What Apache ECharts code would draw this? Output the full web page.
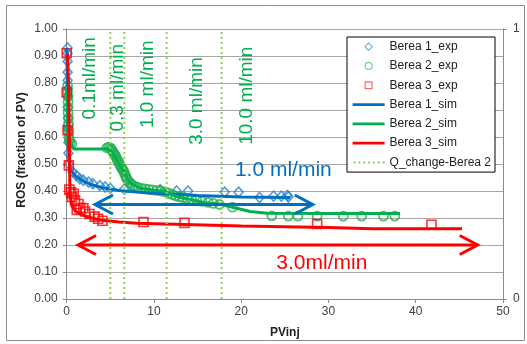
<!DOCTYPE html>
<html><head><meta charset="utf-8">
<script src="https://cdn.jsdelivr.net/npm/echarts@6/dist/echarts.min.js"></script>
<style>html,body{margin:0;padding:0;background:#fff}#c{width:527px;height:344px}</style>
</head><body><div id="c"></div>
<script>
// ---- data ----
const seriesNames = ['Berea 1_exp','Berea 2_exp','Berea 3_exp','Berea 1_sim','Berea 2_sim','Berea 3_sim','Q_change-Berea 2'];
const berea1Exp = [[0.1,0.93],[0.1,0.91],[0.1,0.88],[0.1,0.84],[0.1,0.81],[0.12,0.78],[0.12,0.75],[0.15,0.71],[0.15,0.67],[0.18,0.63],[0.2,0.58],[0.2,0.54],[0.25,0.50],[0.7,0.47],[1.1,0.457],[1.5,0.445],[1.9,0.44],[2.5,0.433],[3.0,0.427],[3.8,0.42],[4.4,0.415],[5.0,0.41],[6.6,0.407],[10.7,0.405],[12.6,0.40],[13.9,0.40],[18.1,0.396],[19.7,0.396],[22.1,0.376],[23.7,0.381],[24.6,0.381],[25.3,0.384],[25.4,0.378]];
const berea2Exp = [[0.1,0.79],[0.1,0.77],[0.15,0.75],[0.15,0.73],[0.15,0.71],[0.15,0.69],[0.2,0.67],[0.2,0.65],[0.2,0.64],[0.25,0.62],[0.25,0.60],[0.3,0.59],[0.4,0.58],[0.6,0.575],
  [4.6,0.56],[4.8,0.562],[5.0,0.56],[5.1,0.555],[5.2,0.55],[5.3,0.545],[5.4,0.54],[5.5,0.535],[5.6,0.53],[5.7,0.522],[5.8,0.515],[5.9,0.51],[6.0,0.503],[6.1,0.497],[6.2,0.49],[6.3,0.485],[6.4,0.48],[6.5,0.475],[6.6,0.468],[6.7,0.46],[6.8,0.452],[6.9,0.445],[7.0,0.44],[7.2,0.432],[7.4,0.426],[7.6,0.42],[7.9,0.416],[8.2,0.413],[8.6,0.41],[9.0,0.408],[9.4,0.406],[9.8,0.404],[10.3,0.402],[10.8,0.40],[11.3,0.397],[11.7,0.392],[12.1,0.387],[12.5,0.382],[12.9,0.378],[13.3,0.376],[13.8,0.373],[14.3,0.37],[14.9,0.366],[15.5,0.362],[16.2,0.358],[16.8,0.354],[17.5,0.35],[19.0,0.34],
  [23.5,0.308],[25.4,0.307],[26.5,0.307],[28.7,0.307],[31.7,0.307],[33.8,0.307],[36.3,0.307],[37.6,0.307]];
const berea3Exp = [[0,0.91],[0,0.765],[0.1,0.625],[0.25,0.495],[0.3,0.405],[0.5,0.395],[0.6,0.378],[0.8,0.39],[0.95,0.366],[1.15,0.33],[1.35,0.352],[1.55,0.338],[1.9,0.336],[2.1,0.324],[2.6,0.315],[3.2,0.305],[3.6,0.297],[4.1,0.29],[8.8,0.285],[13.5,0.282],[28.7,0.278],[41.8,0.275]];
const berea1Sim = [[0,0.93],[0.05,0.85],[0.15,0.65],[0.25,0.52],[0.4,0.48],[1,0.455],[2,0.435],[3,0.422],[4,0.413],[6,0.402],[8,0.396],[10,0.392],[12.5,0.388],[15,0.383],[20,0.378],[25.6,0.376]];
const berea2Sim = [[0,0.79],[0.1,0.7],[0.2,0.62],[0.3,0.59],[0.5,0.575],[0.8,0.556],[4.8,0.556],[5.2,0.545],[5.6,0.525],[6.0,0.50],[6.5,0.475],[7.0,0.44],[7.5,0.425],[8.5,0.41],[10,0.403],[11,0.40],[11.6,0.395],[12.3,0.383],[13,0.376],[14,0.37],[15,0.362],[16,0.356],[17.5,0.352],[19,0.34],[21,0.324],[23,0.318],[30,0.317],[38.2,0.317]];
const berea3Sim = [[0.1,0.91],[0.2,0.8],[0.3,0.6],[0.35,0.45],[0.4,0.38],[0.6,0.345],[1,0.325],[1.5,0.315],[2.5,0.303],[4,0.292],[6,0.285],[8,0.281],[13.5,0.276],[20,0.27],[30,0.265],[35,0.26],[45.3,0.26]];
const qChangeX = [5.0, 6.6, 11.45, 17.75];
const rateLabels = ['0.1ml/min','0.3 ml/min','1.0 ml/min','3.0 ml/min','10.0 ml/min'];
const blueArrow = [[3.24, 28.2, 0.35]];
const redArrow = [[1.3, 47.1, 0.2]];
const blueArrowLabel = '1.0 ml/min';
const redArrowLabel = '3.0ml/min';

// ---- annotation placement (data coordinates) ----
const rateLabelPos = [[2.67,0.665],[5.85,0.62],[9.25,0.633],[14.93,0.571],[20.65,0.571]];
const blueLabelPos = [24.83, 0.477];
const redLabelPos = [29.24, 0.133];

const FONT = '"Liberation Sans", Arial, sans-serif';
const C_BLUE = '#0070c0', C_GREEN = '#00b050', C_RED = '#ff0000', C_LGREEN = '#92d050';

// legend icon paths in a 32x8 frame (move-to points fix the frame)
const FRAME = 'M0,0 M32,8 ';
const ICON_DIAMOND = 'path://' + FRAME + 'M16,0.3 L19.6,4 L16,7.7 L12.4,4 Z';
const ICON_CIRCLE = 'path://' + FRAME + 'M12.5,4 A3.5,3.5 0 1,0 19.5,4 A3.5,3.5 0 1,0 12.5,4 Z';
const ICON_SQUARE = 'path://' + FRAME + 'M12.6,0.6 L19.4,0.6 L19.4,7.4 L12.6,7.4 Z';
const ICON_LINE = 'path://' + FRAME + 'M0,2.6 L32,2.6 L32,5.4 L0,5.4 Z';
let dots = FRAME;
for (let i = 0; i < 7; i++) { const x = 1 + i * 5; dots += 'M' + x + ',3 L' + (x + 2) + ',3 L' + (x + 2) + ',5 L' + x + ',5 Z '; }
const ICON_DOTS = 'path://' + dots;

const chart = echarts.init(document.getElementById('c'));

function arrowSeries(data, color){
  return {
    type:'custom', coordinateSystem:'cartesian2d', silent:true, z:5,
    encode:{x:[0,1], y:2},
    data: data,
    renderItem: function(params, api){
      const p1 = api.coord([api.value(0), api.value(2)]);
      const p2 = api.coord([api.value(1), api.value(2)]);
      const hw = 18, hh = 9.5;
      const st = {stroke: color, lineWidth: 3, fill: null};
      return {type:'group', children:[
        {type:'line', shape:{x1:p1[0]+1,y1:p1[1],x2:p2[0]-1,y2:p2[1]}, style:st},
        {type:'polyline', shape:{points:[[p1[0]+hw,p1[1]-hh],[p1[0],p1[1]],[p1[0]+hw,p1[1]+hh]]}, style:st},
        {type:'polyline', shape:{points:[[p2[0]-hw,p2[1]-hh],[p2[0],p2[1]],[p2[0]-hw,p2[1]+hh]]}, style:st}
      ]};
    }
  };
}

function textSeries(pos, texts, color, size, rotated){
  return {
    type:'custom', coordinateSystem:'cartesian2d', silent:true, z:6,
    encode:{x:0, y:1},
    data: pos.map((p,i)=>[p[0],p[1],i]),
    renderItem: function(params, api){
      const p = api.coord([api.value(0), api.value(1)]);
      return {type:'text', x:p[0], y:p[1], rotation: rotated ? Math.PI/2 : 0,
        style:{text: texts[params.dataIndex], fill: color, fontSize: size, fontFamily: FONT,
          align: rotated ? 'left' : 'center', verticalAlign:'middle'}};
    }
  };
}

const series = [
  {name:seriesNames[0], type:'scatter', data:berea1Exp, symbol:'diamond', symbolSize:[9,10],
   itemStyle:{color:'rgba(255,255,255,0)', borderColor:'#2c7fd0', borderWidth:1.6}, z:2},
  {name:seriesNames[1], type:'scatter', data:berea2Exp, symbol:'circle', symbolSize:9,
   itemStyle:{color:'rgba(255,255,255,0)', borderColor:'#22b050', borderWidth:1.8}, z:2},
  {name:seriesNames[2], type:'scatter', data:berea3Exp, symbol:'rect', symbolSize:9,
   itemStyle:{color:'rgba(255,255,255,0)', borderColor:C_RED, borderWidth:1.6}, z:2},
  {name:seriesNames[3], type:'line', data:berea1Sim, showSymbol:false, symbol:'none', lineStyle:{color:C_BLUE, width:3}, itemStyle:{color:C_BLUE}, z:3},
  {name:seriesNames[4], type:'line', data:berea2Sim, showSymbol:false, symbol:'none', lineStyle:{color:C_GREEN, width:3}, itemStyle:{color:C_GREEN}, z:3},
  {name:seriesNames[5], type:'line', data:berea3Sim, showSymbol:false, symbol:'none', lineStyle:{color:C_RED, width:3}, itemStyle:{color:C_RED}, z:3}
];
qChangeX.forEach(x => {
  series.push({name:seriesNames[6], type:'line', data:[[x,0],[x,1]], showSymbol:false, symbol:'none',
    lineStyle:{color:C_LGREEN, width:2, type:[2,3]}, itemStyle:{color:C_LGREEN}, z:4});
});
series.push(arrowSeries(blueArrow, C_BLUE));
series.push(arrowSeries(redArrow, C_RED));
series.push(textSeries(rateLabelPos, rateLabels, C_GREEN, 19, true));
series.push(textSeries([blueLabelPos], [blueArrowLabel], C_BLUE, 21, false));
series.push(textSeries([redLabelPos], [redArrowLabel], C_RED, 21, false));

const hollow = c => ({color:'rgba(255,255,255,0)', borderColor:c, borderWidth:1.2});
const solid = c => ({color:c, borderWidth:0, borderColor:c});
const legendIcons = [ICON_DIAMOND, ICON_CIRCLE, ICON_SQUARE, ICON_LINE, ICON_LINE, ICON_LINE, ICON_DOTS];
const legendStyles = [hollow('#5b9bd5'), hollow('#4cc070'), hollow('#ff4040'), solid(C_BLUE), solid(C_GREEN), solid(C_RED), solid(C_LGREEN)];

const axisLabelStyle = {color:'#404040', fontSize:12, fontFamily:FONT};
chart.setOption({
  animation:false,
  backgroundColor:'#fff',
  grid:{left:66.7, right:24, top:29, bottom:40, containLabel:false},
  xAxis:{type:'value', min:0, max:50, interval:10,
    name:'PVinj', nameLocation:'middle', nameGap:28,
    nameTextStyle:{fontWeight:'bold', fontSize:12, color:'#222', fontFamily:FONT},
    axisLine:{show:true, lineStyle:{color:'#8c8c8c', width:1}},
    axisTick:{show:true, inside:false, length:4, lineStyle:{color:'#8c8c8c'}},
    axisLabel:Object.assign({margin:7}, axisLabelStyle),
    splitLine:{show:false}},
  yAxis:[
    {type:'value', min:0, max:1, interval:0.1, position:'left',
     axisLine:{show:true, lineStyle:{color:'#8c8c8c', width:1}},
     axisTick:{show:true, inside:false, length:4, lineStyle:{color:'#8c8c8c'}},
     axisLabel:Object.assign({margin:9, formatter:v=>v.toFixed(2)}, axisLabelStyle),
     splitLine:{show:true, lineStyle:{color:'#a6a6a6', width:1}}},
    {type:'value', min:0, max:1, interval:1, position:'right',
     axisLine:{show:true, lineStyle:{color:'#8c8c8c', width:1}},
     axisTick:{show:true, inside:false, length:4, lineStyle:{color:'#8c8c8c'}},
     axisLabel:Object.assign({margin:10, formatter:v=>String(v)}, axisLabelStyle),
     splitLine:{show:false}}
  ],
  legend:{
    data: seriesNames.map((n,i)=>({name:n, icon:legendIcons[i], itemStyle:legendStyles[i]})),
    orient:'vertical', left:347, top:37,
    padding:[0,4,0,5], itemGap:0, itemWidth:32, itemHeight:8,
    backgroundColor:'#fff', borderColor:'#000', borderWidth:1, borderRadius:0,
    textStyle:{fontSize:12, color:'#222', fontFamily:FONT, lineHeight:19.3},
    selectedMode:false
  },
  graphic:[
    {type:'rect', shape:{x:6.5, y:5.5, width:518, height:335}, style:{fill:null, stroke:'#8c8c8c', lineWidth:1}, silent:true, z:-1},
    {type:'text', x:22, y:150, rotation:Math.PI/2,
     style:{text:'ROS (fraction of PV)', fontWeight:'bold', fontSize:12, fill:'#222', fontFamily:FONT, align:'center', verticalAlign:'middle'}}
  ],
  series: series
});
</script></body></html>
